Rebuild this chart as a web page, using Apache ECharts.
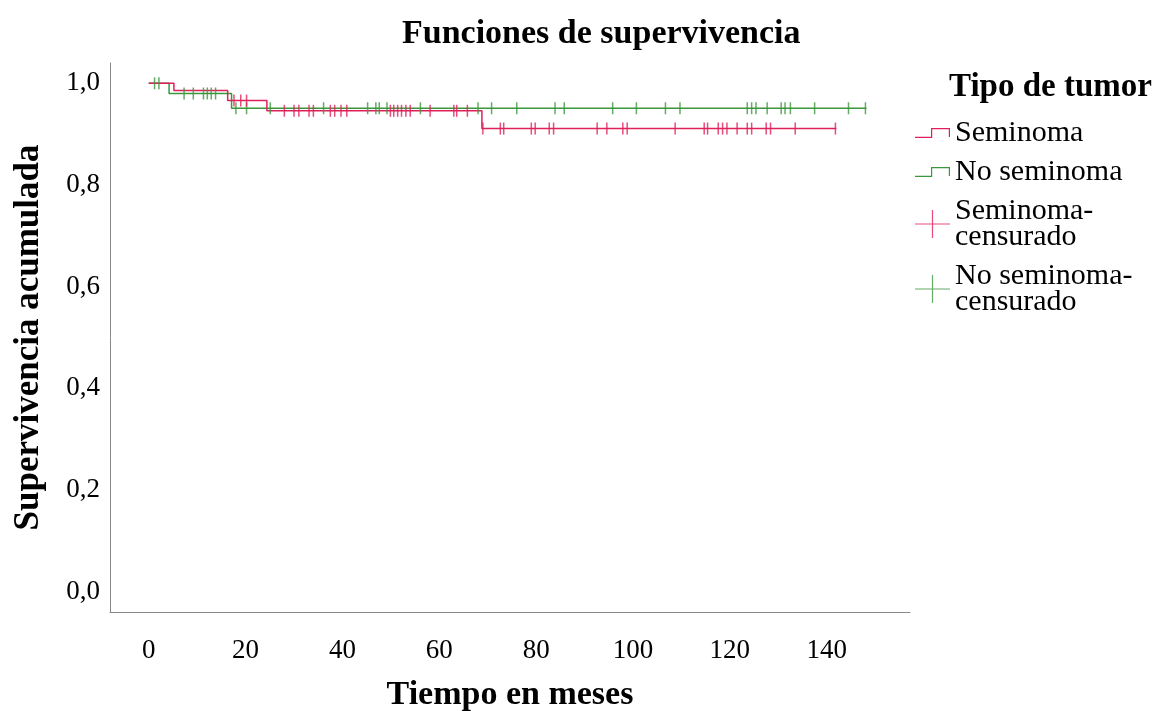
<!DOCTYPE html>
<html>
<head>
<meta charset="utf-8">
<title>Funciones de supervivencia</title>
<script src="https://cdn.jsdelivr.net/npm/echarts@6.0.0/dist/echarts.min.js"></script>
<style>
    html, body { margin: 0; padding: 0; background: #fff; }
    #main { width: 1159px; height: 711px; }
</style>
</head>
<body>
<div id="main"></div>
<script>
// Kaplan-Meier steps: time of each drop and the survival level after it
const seminomaTimes = [0, 5.2, 16.3, 24.4, 68.8];
const seminomaLevels = [1.0, 0.986, 0.966, 0.946, 0.911];
const seminomaEnd = 142.0;

const noSeminomaTimes = [0, 4.2, 17.1];
const noSeminomaLevels = [1.0, 0.980, 0.951];
const noSeminomaEnd = 148.2;

// censored observations (months)
const seminomaCensored = [17.6, 19.0, 20.2, 28.0, 30.0, 31.0, 33.1, 34.0, 37.5, 38.4, 39.7, 40.9,
    49.9, 50.6, 51.4, 52.2, 53.1, 54.0, 58.1, 63.0, 63.6, 65.8, 69.0, 72.6, 73.3, 79.0, 79.8,
    82.7, 83.6, 92.6, 94.6, 97.9, 98.8, 108.7, 114.7, 115.4, 117.6, 118.5, 119.4, 121.5, 123.6,
    124.5, 127.5, 128.4, 133.5, 141.8];
const noSeminomaCensored = [1.2, 2.1, 7.3, 9.2, 11.3, 12.1, 12.9, 13.8, 18.0, 20.2, 25.1, 36.1,
    45.2, 46.9, 47.6, 49.2, 56.1, 68.0, 70.8, 76.0, 83.9, 85.8, 95.8, 100.7, 106.7, 109.7, 123.6,
    124.5, 125.4, 127.7, 130.6, 131.4, 132.5, 137.5, 144.5, 148.0];

const xTicks = [0, 20, 40, 60, 80, 100, 120, 140];
const yTicks = [0, 0.2, 0.4, 0.6, 0.8, 1.0];

const RED = '#e0205a';
const GREEN = '#3c973c';
const FONT = '"Liberation Serif", "Times New Roman", serif';

const STEP_ICON = 'path://M0,8.8H17.2V10H0Z M16,0H17.2V10H16Z M16,0H35V1.2H16Z M33.8,0H35V9H33.8Z';
const PLUS_ICON = 'path://M0,13.4H35V14.6H0Z M16.9,0H18.1V28H16.9Z';

function stepData(times, levels, end) {
    const pts = times.map((t, i) => [t, levels[i]]);
    pts.push([end, levels[levels.length - 1]]);
    return pts;
}

function levelAt(times, levels, t) {
    let lvl = levels[0];
    times.forEach((s, i) => {
        if (s <= t) lvl = levels[i];
    });
    return lvl;
}

function censorData(censored, times, levels) {
    return censored.map(t => [t, levelAt(times, levels, t)]);
}

const chart = echarts.init(document.getElementById('main'), null, { renderer: 'canvas' });

const option = {
    backgroundColor: '#fff',
    animation: false,
    title: [{
            text: 'Funciones de supervivencia',
            left: 397,
            top: 12,
            textStyle: { fontFamily: FONT, fontSize: 34, fontWeight: 'bold', color: '#000' }
        },
        {
            text: 'Tipo de tumor',
            left: 944,
            top: 66,
            textStyle: { fontFamily: FONT, fontSize: 33, fontWeight: 'bold', color: '#000' }
        }
    ],
    legend: {
        orient: 'vertical',
        left: 910,
        top: 113,
        itemWidth: 35,
        itemHeight: 28,
        itemGap: 9,
        symbolKeepAspect: true,
        selectedMode: false,
        itemStyle: { borderWidth: 0 },
        textStyle: { fontFamily: FONT, fontSize: 30, lineHeight: 26, color: '#000' },
        formatter: name => name.replace('-', '-\n'),
        data: [
            { name: 'Seminoma', icon: STEP_ICON },
            { name: 'No seminoma', icon: STEP_ICON },
            { name: 'Seminoma-censurado', icon: PLUS_ICON },
            { name: 'No seminoma-censurado', icon: PLUS_ICON }
        ]
    },
    grid: {
        left: 110,
        right: 249,
        top: 63,
        bottom: 99,
        containLabel: false,
        outerBoundsMode: 'none'
    },
    xAxis: {
        type: 'value',
        min: -8,
        max: 157.2,
        name: 'Tiempo en meses',
        nameLocation: 'middle',
        nameGap: 66,
        nameTextStyle: { fontFamily: FONT, fontSize: 34, fontWeight: 'bold', color: '#000' },
        axisLine: { show: true, onZero: false, lineStyle: { color: '#888', width: 1 } },
        axisTick: { show: false },
        splitLine: { show: false },
        axisLabel: {
            customValues: xTicks,
            margin: 25,
            fontFamily: FONT,
            fontSize: 27,
            color: '#000'
        }
    },
    yAxis: {
        type: 'value',
        min: -0.04,
        max: 1.04,
        name: 'Supervivencia acumulada',
        nameLocation: 'middle',
        nameGap: 64,
        nameTextStyle: { fontFamily: FONT, fontSize: 35, fontWeight: 'bold', color: '#000' },
        axisLine: { show: true, onZero: false, lineStyle: { color: '#888', width: 1 } },
        axisTick: { show: false },
        splitLine: { show: false },
        axisLabel: {
            customValues: yTicks,
            margin: 10,
            fontFamily: FONT,
            fontSize: 27,
            color: '#000',
            formatter: v => v.toFixed(1).replace('.', ',')
        }
    },
    series: [{
            name: 'No seminoma',
            type: 'line',
            step: 'end',
            showSymbol: false,
            symbol: 'none',
            color: GREEN,
            lineStyle: { width: 1.5, color: GREEN },
            data: stepData(noSeminomaTimes, noSeminomaLevels, noSeminomaEnd),
            z: 2
        },
        {
            name: 'Seminoma',
            type: 'line',
            step: 'end',
            showSymbol: false,
            symbol: 'none',
            color: RED,
            lineStyle: { width: 1.5, color: RED },
            data: stepData(seminomaTimes, seminomaLevels, seminomaEnd),
            z: 3
        },
        {
            name: 'No seminoma-censurado',
            type: 'scatter',
            symbol: 'rect',
            symbolSize: [1.5, 12],
            itemStyle: { color: GREEN },
            data: censorData(noSeminomaCensored, noSeminomaTimes, noSeminomaLevels),
            z: 4
        },
        {
            name: 'Seminoma-censurado',
            type: 'scatter',
            symbol: 'rect',
            symbolSize: [1.5, 12],
            itemStyle: { color: RED },
            data: censorData(seminomaCensored, seminomaTimes, seminomaLevels),
            z: 5
        }
    ]
};

chart.setOption(option);
</script>
</body>
</html>
